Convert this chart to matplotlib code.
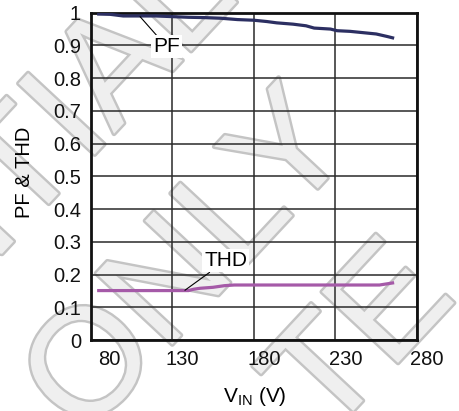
import matplotlib
matplotlib.use("Agg")
import matplotlib.pyplot as plt
import matplotlib.patheffects as pe
from matplotlib.transforms import ScaledTranslation

plt.rcParams['font.family'] = ['Liberation Sans', 'DejaVu Sans']
plt.rcParams['mathtext.fontset'] = 'custom'
plt.rcParams['mathtext.rm'] = 'Liberation Sans'

# ---- data ----
pf_vin = [84, 92, 100, 110, 120, 130, 140, 150, 160, 170, 180, 188, 194, 204,
          212, 217, 227, 231, 239, 245, 255, 262, 266]
pf_val = [0.996, 0.995, 0.990, 0.990, 0.990, 0.988, 0.986, 0.985, 0.983, 0.979,
          0.977, 0.973, 0.969, 0.965, 0.960, 0.953, 0.950, 0.945, 0.943, 0.940,
          0.935, 0.927, 0.922]
thd_vin = [84, 100, 120, 140, 143, 147, 155, 162, 168, 180, 200, 220, 240, 257, 266]
thd_val = [0.151, 0.151, 0.151, 0.151, 0.155, 0.158, 0.161, 0.166, 0.168, 0.168,
           0.168, 0.168, 0.168, 0.168, 0.175]
x_ticks = [80, 130, 180, 230, 280]
y_ticks = [0, 0.1, 0.2, 0.3, 0.4, 0.5, 0.6, 0.7, 0.8, 0.9, 1]
y_ticklabels = ['0', '0.1', '0.2', '0.3', '0.4', '0.5', '0.6', '0.7', '0.8', '0.9', '1']

W, H = 460, 411
fig = plt.figure(figsize=(W / 100, H / 100), dpi=100)

# ---- watermark (behind axes) ----
wm_kw = dict(fontsize=109, rotation=47, rotation_mode='anchor', color='#efefef',
             family='Liberation Sans', zorder=0,
             path_effects=[pe.withStroke(linewidth=3.5, foreground='#c4c4c4')])
fig.text(211.5 / W, 1 + 28 / H, 'DENTIAL', ha='right', va='center', **wm_kw)
fig.text(55 / W, 1 - 413 / H, 'ONLY', ha='left', va='center', **wm_kw)
fig.text(298 / W, 1 - 413 / H, 'TE', ha='left', va='center', **wm_kw)

# ---- axes ----
left, right, top, bottom = 90.6, 417, 12.7, 340
ax = fig.add_axes([left / W, 1 - bottom / H, (right - left) / W, (bottom - top) / H])
ax.set_zorder(5)
ax.patch.set_visible(False)

ax.set_xlim(80, 280)
ax.set_ylim(0, 1)
ax.set_xticks(x_ticks)
ax.set_xticklabels([str(v) for v in x_ticks])
ax.set_yticks(y_ticks)
ax.set_yticklabels(y_ticklabels)
ax.tick_params(length=0, labelsize=14.5, colors='#111111')
ax.tick_params(axis='x', pad=7)
ax.tick_params(axis='y', pad=7)

for i, lab in enumerate(ax.get_xticklabels()):
    dx = 19 if i == 0 else 10
    lab.set_transform(lab.get_transform() + ScaledTranslation(dx / 100, 0, fig.dpi_scale_trans))

ax.grid(True, color='#2a2a2a', lw=1.1)
ax.set_axisbelow(True)
for s in ax.spines.values():
    s.set_linewidth(2.0)
    s.set_color('#111111')

ax.plot(pf_vin, pf_val, color='#2c2f62', lw=2.3, solid_capstyle='butt', zorder=3)
ax.plot(thd_vin, thd_val, color='#a55aa8', lw=2.3, solid_capstyle='butt', zorder=3)

ann_kw = dict(fontsize=15, ha='center', va='center', zorder=4,
              bbox=dict(boxstyle='square,pad=0.1', fc='white', ec='none'),
              arrowprops=dict(arrowstyle='-', color='black', lw=0.8, shrinkA=0, shrinkB=0))
ax.annotate('PF', xy=(110.3, 0.988), xytext=(126.6, 0.896), **ann_kw)
ax.annotate('THD', xy=(137.8, 0.152), xytext=(162.7, 0.242), **ann_kw)

ax.set_xlabel(r'$\mathregular{V_{IN}}$ (V)', fontsize=15)
ax.xaxis.label.set_va('baseline')
ax.xaxis.set_label_coords(0.502, -0.189)
ax.set_ylabel('PF & THD', fontsize=14.5)
ax.yaxis.label.set_va('center')
ax.yaxis.set_label_coords(-0.201, 0.512)

fig.savefig('out.png', dpi=100)
